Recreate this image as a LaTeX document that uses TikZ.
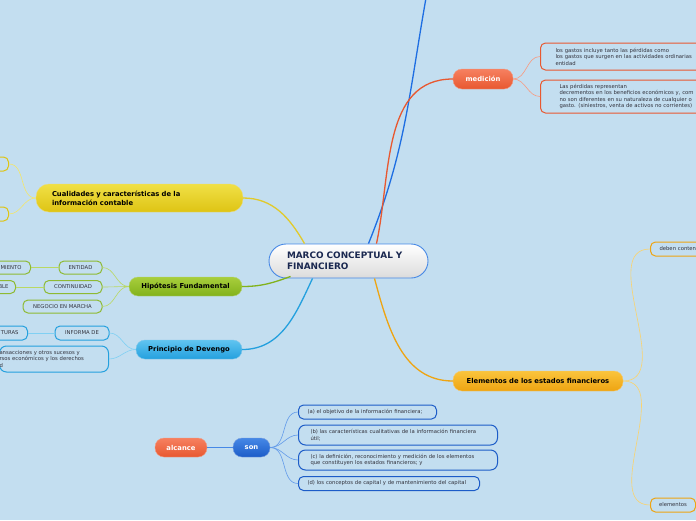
\documentclass[tikz,border=0pt]{standalone}
\usepackage{fontspec}
\setmainfont{DejaVu Sans}
\usetikzlibrary{positioning, calc}

\definecolor{bgblue}{RGB}{195,222,240}
\definecolor{redor}{RGB}{232,88,48}
\definecolor{redorL}{RGB}{246,128,96}
\definecolor{yel}{RGB}{222,196,20}
\definecolor{yelL}{RGB}{240,224,70}
\definecolor{grn}{RGB}{130,178,28}
\definecolor{grnL}{RGB}{168,206,60}
\definecolor{sky}{RGB}{36,160,222}
\definecolor{skyL}{RGB}{96,196,240}
\definecolor{amb}{RGB}{238,164,18}
\definecolor{ambL}{RGB}{250,196,60}
\definecolor{navy}{RGB}{28,92,200}
\definecolor{navyL}{RGB}{70,136,230}
\definecolor{upblue}{RGB}{30,110,226}
\definecolor{txtgrey}{RGB}{50,50,60}

\begin{document}
\begin{tikzpicture}[
    x=1pt, y=1pt,
    font=\fontsize{5.3}{6.5}\selectfont,
    topic/.style   ={rounded corners=9pt, minimum height=19pt, inner sep=0pt,
                     font=\fontsize{6.8}{8}\selectfont\bfseries, draw=white!40!#1},
    leaf/.style    ={draw=#1, line width=1pt, rounded corners=5pt, fill=bgblue,
                     minimum height=14pt, inner ysep=0pt, text=txtgrey},
    link/.style    ={line width=1.3pt, #1},
    twig/.style    ={line width=0.6pt, #1}
]

% background and frame
\fill[bgblue] (0,0) rectangle (696,-520);
\useasboundingbox (0,0) rectangle (696,-520);
\clip (0,0) rectangle (696,-520);

% =================== CENTRAL TOPIC ===================
\node[draw=navyL, line width=0.9pt, rounded corners=17pt, top color=white,
      bottom color=black!14, minimum width=159pt, minimum height=34pt,
      inner xsep=18pt, text width=123pt, align=left, text={rgb,255:red,26;green,40;blue,80},
      font=\fontsize{8.9}{11}\selectfont\bfseries] (root) at (348.5,-261)
    {MARCO CONCEPTUAL Y\\FINANCIERO};

\coordinate (offtop) at (426,2);

% =================== MAIN BRANCHES ===================
\node[topic=redor, top color=redorL, bottom color=redor, text=white,
      minimum width=60pt, minimum height=20pt] (medida) at (483,-79) {medición};
\node[topic=amb, top color=ambL, bottom color=amb, minimum width=170pt,
      minimum height=20pt] (elem) at (538,-381) {Elementos de los estados financieros};
\node[topic=yel, top color=yelL, bottom color=yel, rounded corners=13pt,
      minimum width=207pt, minimum height=28pt, inner xsep=16pt, text width=175pt,
      align=left, font=\fontsize{6.8}{9}\selectfont\bfseries] (cuali) at (139.5,-198)
    {Cualidades y características de la\\información contable};
\node[topic=grn, top color=grnL, bottom color=grn, minimum width=113pt] (hipo)
    at (185.5,-286.5) {Hipótesis Fundamental};
\node[topic=sky, top color=skyL, bottom color=sky, minimum width=106pt] (deven)
    at (189,-349.5) {Principio de Devengo};
\node[topic=redor, top color=redorL, bottom color=redor, text=white,
      minimum width=52pt] (alcance) at (181,-447.5) {alcance};
\node[topic=navy, top color=navyL, bottom color=navy, text=white,
      minimum width=37pt] (son) at (251.5,-447.5) {son};

% root links
\draw[link=upblue] ($(root.north)+(20,0)$) to[out=68,in=-100] (offtop);
\draw[link=redor] ($(root.north)+(28,0)$) to[out=78,in=180] (medida.west);
\draw[link=amb] ($(root.south)+(26,0)$) to[out=-75,in=180] (elem.west);
\draw[link=yel!90] ($(root.north)+(-44,0)$) to[out=120,in=0] (cuali.east);
\draw[link=grn] ($(root.south west)+(22,2)$) to[out=200,in=0] (hipo.east);
\draw[link=sky] ($(root.south)+(-36,0)$) to[out=-115,in=0] (deven.east);
\draw[link=navyL] (alcance.east) -- (son.west);

% =================== medición ===================
\node[leaf=redor, anchor=west, minimum height=27pt, inner xsep=15pt,
      text width=170pt, align=left] (med1) at (540,-56.5)
    {los gastos incluye tanto las pérdidas como\\los gastos que surgen en las actividades ordinarias\\entidad};
\node[leaf=redor, anchor=west, minimum height=33pt, inner xsep=19pt,
      text width=170pt, align=left] (med2) at (540,-96.5)
    {Las pérdidas representan\\decrementos en los beneficios económicos y, com\\no son diferentes en su naturaleza de cualquier o\\gasto. (siniestros, venta de activos no corrientes)};
\draw[twig=redorL!80] (medida.east) to[out=0,in=180] (med1.west);
\draw[twig=redorL!80] (medida.east) to[out=0,in=180] (med2.west);

% =================== Elementos ===================
\node[leaf=amb, anchor=west, inner xsep=9pt, text width=60pt, align=left] (deben)
    at (650,-249) {deben conten};
\node[leaf=amb, anchor=west, minimum width=45pt] (elems) at (650,-505) {elementos};
\draw[twig=ambL!75] (elem.east) to[out=0,in=180] (deben.west);
\draw[twig=ambL!75] (elem.east) to[out=0,in=180] (elems.west);

% =================== Cualidades ===================
\node[leaf=yel, anchor=east, minimum width=40pt] (cua1) at (9,-164) {};
\node[leaf=yel, anchor=east, minimum width=40pt] (cua2) at (9,-214) {};
\draw[twig=yelL!80] (cuali.west) to[out=180,in=0] (cua1.east);
\draw[twig=yelL!80] (cuali.west) to[out=180,in=0] (cua2.east);

% =================== Hipótesis ===================
\node[leaf=grn!90, minimum width=43pt, minimum height=13pt] (entidad) at (80.5,-267.5) {ENTIDAD};
\node[leaf=grn!90, minimum width=58pt, minimum height=13pt] (contin) at (73,-287) {CONTINUIDAD};
\node[leaf=grn!90, minimum width=79pt, minimum height=13pt] (negocio) at (62.5,-306.5) {NEGOCIO EN MARCHA};
\node[leaf=grn!90, anchor=east, minimum height=13pt, inner xsep=9pt, text width=50pt,
      align=right] (recon) at (31,-267.5) {MIENTO};
\node[leaf=grn!90, anchor=east, minimum height=13pt, inner xsep=7pt, text width=50pt,
      align=right] (medib) at (16,-287) {BLE};
\draw[twig=grnL!80] (hipo.west) to[out=180,in=0] (entidad.east);
\draw[twig=grnL!80] (hipo.west) to[out=180,in=0] (contin.east);
\draw[twig=grnL!80] (hipo.west) to[out=180,in=0] (negocio.east);
\draw[twig=grnL!80] (entidad.west) -- (recon.east);
\draw[twig=grnL!80] (contin.west) -- (medib.east);

% =================== Devengo ===================
\node[leaf=sky, minimum width=54pt] (informa) at (82,-333) {INFORMA DE};
\node[leaf=sky, anchor=east, inner xsep=9pt, text width=50pt, align=right] (estruct)
    at (28,-333) {TURAS};
\node[leaf=sky, anchor=east, minimum height=26pt, inner xsep=0pt, text width=109pt,
      align=left, rounded corners=7pt] (efectos) at (109,-359)
    {ansacciones y otros sucesos y\\rsos económicos y los derechos\\d};
\draw[twig=skyL!80] (deven.west) to[out=180,in=0] (informa.east);
\draw[twig=skyL!80] (deven.west) to[out=180,in=0] (efectos.east);
\draw[twig=skyL!80] (informa.west) -- (estruct.east);

% =================== alcance / son ===================
\node[leaf=navy, anchor=west, minimum width=138pt, inner xsep=9pt, text width=120pt,
      align=left] (itema) at (298,-412) {(a) el objetivo de la información financiera;};
\node[leaf=navy, anchor=west, minimum width=199pt, minimum height=20pt, inner xsep=12pt,
      text width=175pt, align=left, rounded corners=7pt] (itemb) at (298,-435)
    {(b) las características cualitativas de la información financiera\\útil;};
\node[leaf=navy, anchor=west, minimum width=199pt, minimum height=20pt, inner xsep=12pt,
      text width=175pt, align=left, rounded corners=7pt] (itemc) at (298,-460)
    {(c) la definición, reconocimiento y medición de los elementos\\que constituyen los estados financieros; y};
\node[leaf=navy, anchor=west, minimum width=181pt, inner xsep=9pt, text width=163pt,
      align=left] (itemd) at (298,-483.5)
    {(d) los conceptos de capital y de mantenimiento del capital};
\foreach \it in {itema,itemb,itemc,itemd}
    \draw[twig=navyL!85] (son.east) to[out=0,in=180] (\it.west);

\end{tikzpicture}
\end{document}
